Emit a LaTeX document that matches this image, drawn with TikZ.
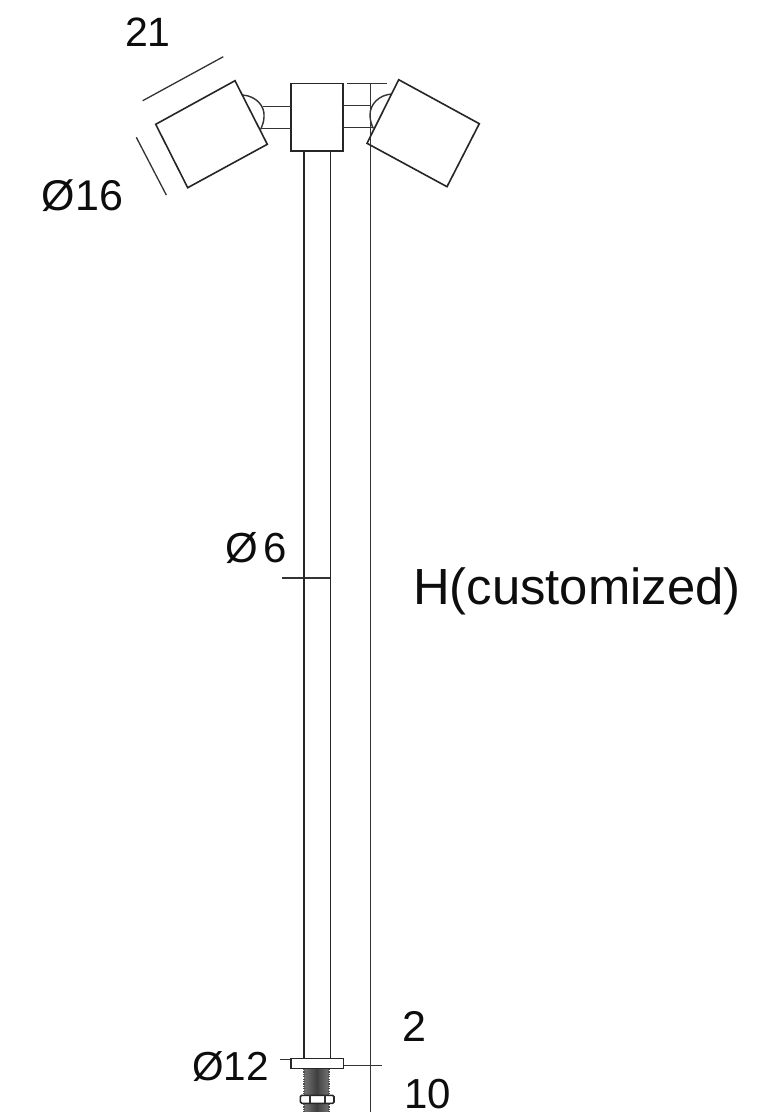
\documentclass[tikz,border=0pt]{standalone}
\usepackage{fontspec}
\setmainfont{Liberation Sans}
\begin{document}
\begin{tikzpicture}[x=1pt,y=-1pt,
  part/.style={draw=black!85,line width=1.6pt,line join=miter},
  thin part/.style={draw=black!80,line width=1.4pt},
  dim/.style={draw=black!80,line width=1.3pt},
  lbl/.style={inner sep=0pt,anchor=base,text=black!95,font=\fontsize{43}{44}\selectfont},
  biglbl/.style={inner sep=0pt,anchor=base west,text=black!95,font=\fontsize{50.8}{50}\selectfont}]
\useasboundingbox (0,0) rectangle (756,1112);
\fill[white] (0,0) rectangle (756,1112);
% dimension lines
\draw[dim] (142.7,100.7) -- (223.3,56.7);
\draw[dim] (136.3,137.3) -- (166.3,195);
\draw[dim] (346.7,83.7) -- (386.7,83.7);
\draw[dim] (370.7,83.7) -- (370.7,1112);
\draw[dim] (282,578) -- (330.3,578);
\draw[dim] (280,1059.3) -- (291,1059.3);
\draw[dim] (343.3,1065.7) -- (381.7,1065.7);
% stem
\draw[part] (303.7,151) -- (303.7,1058.3);
\draw[part] (330.3,151) -- (330.3,1058.3);
% head block
\draw[part] (291,83.3) rectangle (342.7,151);
% arms
\draw[thin part] (262.7,106.3) -- (291,106.3);
\draw[thin part] (260.7,128.7) -- (291,128.7);
\draw[thin part] (342.7,105.3) -- (370.7,105.3);
\draw[thin part] (342.7,127.3) -- (373.3,127.3);
% swivels
\draw[thin part] (242.7,95) .. controls (256,96) and (265,106) .. (264,116.7) .. controls (264,122) and (262,126) .. (260.7,129.3);
\draw[thin part] (391.7,94) .. controls (379,95) and (370,104) .. (370,115) .. controls (370,120) and (371.5,125) .. (373.3,128.3);
% lamps
\draw[part] (235,80.7) -- (155.7,124.3) -- (187.7,187.7) -- (267.3,144.3) -- cycle;
\draw[part] (398.7,79.7) -- (479.3,123.7) -- (447,186.7) -- (367,143.3) -- cycle;
% flange
\draw[part] (291,1058.3) rectangle (343.3,1068.3);
% threaded stud
\shade[left color=black!55,right color=black!55,middle color=black!75] (304.5,1069) rectangle (328.8,1095);
\shade[left color=black!55,right color=black!55,middle color=black!75] (304.5,1103.5) rectangle (328.8,1112);
\draw[line width=1.5pt,black!70,dash pattern=on 1.2pt off 1.2pt] (304.2,1069) -- (304.2,1095);
\draw[line width=1.5pt,black!70,dash pattern=on 1.2pt off 1.2pt] (329.1,1069) -- (329.1,1095);
\draw[line width=1.5pt,black!70,dash pattern=on 1.2pt off 1.2pt] (304.2,1104) -- (304.2,1112);
\draw[line width=1.5pt,black!70,dash pattern=on 1.2pt off 1.2pt] (329.1,1104) -- (329.1,1112);
% nut
\draw[part,fill=white,rounded corners=1.5pt] (300.3,1095.3) rectangle (334,1103.4);
\draw[thin part] (310,1095.3) -- (310,1103.4);
\draw[thin part] (325,1095.3) -- (325,1103.4);
% labels
\node[lbl,font=\fontsize{41}{44}\selectfont] (d21) at (148,46) {21};
\node[lbl] (d16) at (82.5,210) {Ø16};
\node[lbl,font=\fontsize{42}{44}\selectfont] (d6) at (256,562.5) {Ø\hspace{5pt}6};
\node[biglbl] (dH) at (413,604) {H(customized)};
\node[lbl] (d2) at (414,1041) {2};
\node[lbl,font=\fontsize{42}{44}\selectfont] (d10) at (428,1108) {10};
\node[lbl,font=\fontsize{40.5}{44}\selectfont] (d12) at (230.5,1080) {Ø12};
\end{tikzpicture}
\end{document}
